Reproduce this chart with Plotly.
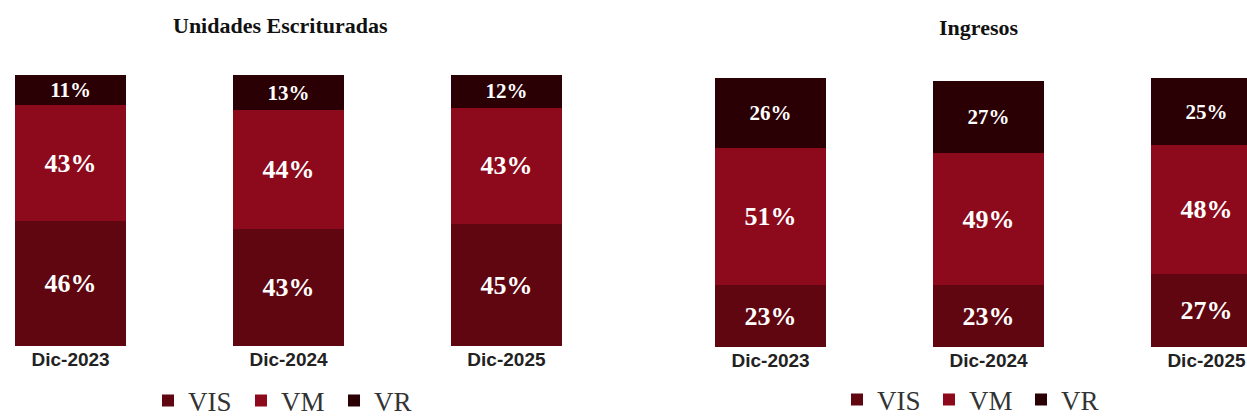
import plotly.graph_objects as go

# Periods and housing segments
periods = ["Dic-2023", "Dic-2024", "Dic-2025"]
segments = ["VIS", "VM", "VR"]
colors = {"VIS": "#600610", "VM": "#8d0a1c", "VR": "#2b0004"}

# Share of deeded units (%)
unidades_vis = [46, 43, 45]
unidades_vm = [43, 44, 43]
unidades_vr = [11, 13, 12]

# Share of revenue (%)
ingresos_vis = [23, 23, 27]
ingresos_vm = [51, 49, 48]
ingresos_vr = [26, 27, 25]

W, H = 1247, 418

fig = go.Figure()

label_sizes = {"VIS": 26, "VM": 26, "VR": 21}

panels = [
    ("x", "y", "legend", {"VIS": unidades_vis, "VM": unidades_vm, "VR": unidades_vr}),
    ("x2", "y2", "legend2", {"VIS": ingresos_vis, "VM": ingresos_vm, "VR": ingresos_vr}),
]

for xa, ya, lg, data in panels:
    for seg in segments:
        vals = data[seg]
        fig.add_trace(go.Bar(
            x=periods, y=vals, name=seg,
            xaxis=xa, yaxis=ya, legend=lg,
            width=0.51,
            marker=dict(color=colors[seg], line=dict(width=0)),
            text=[f"{v}%" for v in vals],
            textposition="inside",
            insidetextanchor="middle",
            textangle=0,
            constraintext="none",
            textfont=dict(family="Liberation Serif", size=label_sizes[seg],
                          color="white", weight="bold"),
            hoverinfo="skip",
        ))

tick_font = dict(family="Liberation Sans", size=19, color="#222222", weight="bold")

legend_font = dict(family="Liberation Serif", size=27, color="#333333")

fig.update_layout(
    width=W, height=H,
    margin=dict(l=0, r=0, t=0, b=0, autoexpand=False),
    paper_bgcolor="white", plot_bgcolor="white",
    barmode="stack",
    xaxis=dict(domain=[15 / W, 562 / W], range=[-0.255, 2.255], type="category",
               showgrid=False, zeroline=False, showline=False, ticks="",
               tickfont=tick_font, fixedrange=True, automargin=False),
    yaxis=dict(domain=[1 - 346 / H, 1 - 75 / H], range=[0, 100], visible=False,
               automargin=False),
    xaxis2=dict(domain=[715 / W, 1.0], range=[-0.255, 2.186], type="category",
                showgrid=False, zeroline=False, showline=False, ticks="",
                tickfont=tick_font, fixedrange=True, anchor="y2", automargin=False),
    yaxis2=dict(domain=[1 - 347 / H, 1 - 78 / H], range=[0, 100], visible=False,
                anchor="x2", automargin=False),
    legend=dict(orientation="h", x=148 / W, y=1 - 401 / H, xanchor="left",
                yanchor="middle", entrywidth=48, traceorder="normal",
                font=legend_font, bgcolor="rgba(0,0,0,0)", borderwidth=0),
    legend2=dict(orientation="h", x=837 / W, y=1 - 400 / H, xanchor="left",
                 yanchor="middle", entrywidth=47, traceorder="normal",
                 font=legend_font, bgcolor="rgba(0,0,0,0)", borderwidth=0),
    annotations=[
        dict(text="Unidades Escrituradas", x=280 / W, y=1 - 25 / H,
             xref="paper", yref="paper", showarrow=False,
             xanchor="center", yanchor="middle",
             font=dict(family="Liberation Serif", size=22, color="#111111",
                       weight="bold")),
        dict(text="Ingresos", x=978 / W, y=1 - 27 / H,
             xref="paper", yref="paper", showarrow=False,
             xanchor="center", yanchor="middle",
             font=dict(family="Liberation Serif", size=22, color="#111111",
                       weight="bold")),
    ],
)

fig.write_html("out.html")
